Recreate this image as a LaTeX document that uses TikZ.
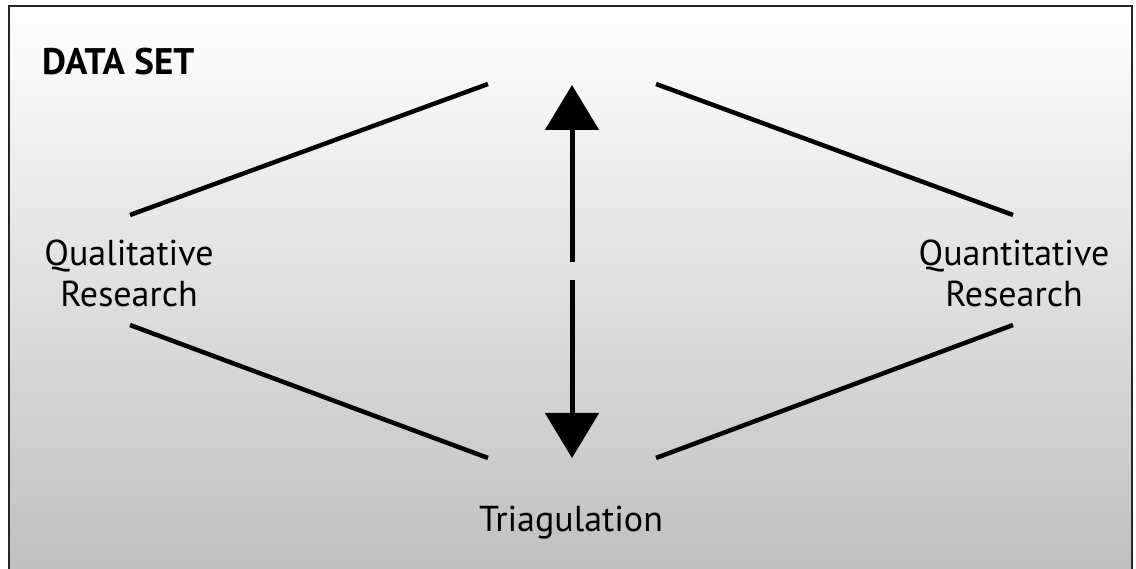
\documentclass[tikz,border=0pt]{standalone}
\usepackage{fontspec}
\setmainfont{PT Sans}
\usetikzlibrary{arrows.meta}
\tikzset{
  lbl/.style={font=\fontsize{36}{41}\selectfont, align=center, inner sep=0pt},
  ttl/.style={font=\fontsize{37}{42}\selectfont\bfseries, inner sep=0pt, anchor=west},
  link/.style={line width=4.5pt, line cap=butt},
  bigarrow/.style={line width=5pt, -{Triangle[width=53pt,length=45pt]}},
}
\begin{document}
\begin{tikzpicture}[x=1pt,y=-1pt]
\useasboundingbox (0,0) rectangle (1136,569);
\clip (0,0) rectangle (1136,569);
\fill[white] (0,0) rectangle (1136,569);
\shade[top color=white, bottom color=black!25] (9,6) rectangle (1132,575);
\draw[black!85, line width=2pt] (9,6) rectangle (1132,580);

\node[ttl] (title) at (42,62) {DATA SET};
\node[lbl] (qual) at (129,273) {Qualitative\\Research};
\node[lbl] (quant) at (1014,273) {Quantitative\\Research};
\node[lbl] (tri) at (571,523) {Triagulation};

\coordinate (qlT) at (130,215);
\coordinate (qlB) at (130,325);
\coordinate (qnT) at (1013,215);
\coordinate (qnB) at (1013,325);
\coordinate (topL) at (488,84);
\coordinate (topR) at (656,84);
\coordinate (botL) at (488,458);
\coordinate (botR) at (656,458);
\coordinate (upS) at (572,262);
\coordinate (upE) at (572,85);
\coordinate (dnS) at (572,280);
\coordinate (dnE) at (572,458);

\draw[link] (qlT) -- (topL);
\draw[link] (topR) -- (qnT);
\draw[link] (qlB) -- (botL);
\draw[link] (botR) -- (qnB);
\draw[bigarrow] (upS) -- (upE);
\draw[bigarrow] (dnS) -- (dnE);
\end{tikzpicture}
\end{document}
